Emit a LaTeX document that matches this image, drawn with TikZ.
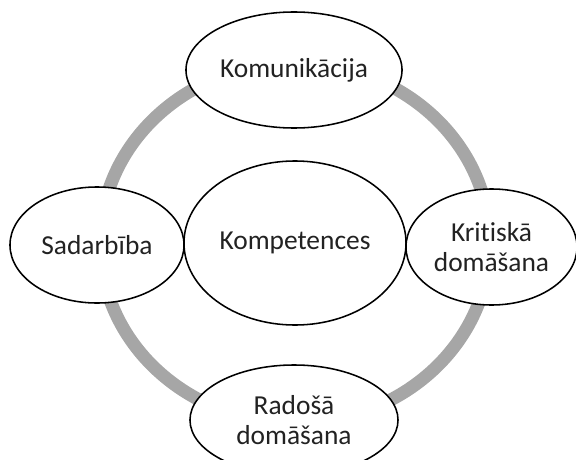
\documentclass[tikz,border=0pt]{standalone}
\usepackage{fontspec}
\setmainfont{Carlito}[Ligatures=NoCommon]
\usetikzlibrary{shapes.geometric}
\definecolor{ringgray}{HTML}{A6A6A6}
\definecolor{txtgray}{HTML}{222222}

\begin{document}
\begin{tikzpicture}[x=0.025cm, y=-0.025cm,
  bubble/.style={ellipse, draw=black, line width=1.1pt, fill=white, inner sep=0pt,
    align=center, text=txtgray, font=\fontsize{19.5}{21}\selectfont}]
\useasboundingbox (0,0) rectangle (576,459);
\coordinate (mid) at (295,243);
% the grey ring behind the bubbles
\draw[ringgray, line width=9.2pt] (mid) ellipse [x radius=4.87cm, y radius=4.5cm];
\node[bubble, minimum width=5.55cm, minimum height=4.1cm] (kompet) at (mid) {Kompetences};
\node[bubble, minimum width=5.4cm, minimum height=2.9cm] (komm) at (294,70) {Komunikācija};
\node[bubble, minimum width=4.35cm, minimum height=2.9cm] (sadarb) at (97,245) {Sadarbība};
\node[bubble, minimum width=4.275cm, minimum height=2.9cm] (krit) at (491.5,247) {Kritiskā\\domāšana};
\node[bubble, minimum width=5.2cm, minimum height=2.75cm] (rados) at (294,420) {Radošā\\domāšana};
\end{tikzpicture}
\end{document}
